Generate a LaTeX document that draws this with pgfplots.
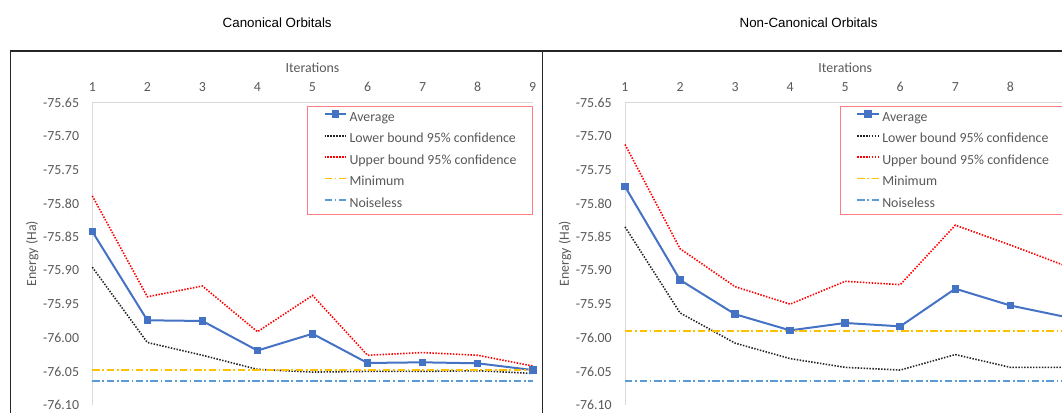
\documentclass[border=0pt]{standalone}
\usepackage{pgfplots}
\pgfplotsset{compat=1.18}
\usepackage{fontspec}
\setmainfont{Carlito}
\newfontfamily\titlefont{Liberation Sans}
\definecolor{avgblue}{HTML}{4472C4}
\definecolor{minyellow}{HTML}{FFC000}
\definecolor{noiseblue}{HTML}{5B9BD5}
\definecolor{ticktext}{HTML}{595959}
\definecolor{legborder}{RGB}{255,124,128}
\definecolor{axisgray}{HTML}{D9D9D9}

\pgfplotsset{
  panel/.style={
    scale only axis, width=330.3pt, height=226.9pt,
    xmin=1, xmax=9, ymin=-76.10, ymax=-75.65,
    axis x line*=top, axis y line*=left,
    axis line style={draw=axisgray, line width=0.75pt},
    xtick={1,2,3,4,5,6,7,8,9},
    ytick={-76.10,-76.05,-76.00,-75.95,-75.90,-75.85,-75.80,-75.75,-75.70,-75.65},
    yticklabels={-76.10,-76.05,-76.00,-75.95,-75.90,-75.85,-75.80,-75.75,-75.70,-75.65},
    major tick length=0pt,
    tick label style={font=\fontsize{10.4}{12}\selectfont, text=ticktext},
    xticklabel style={anchor=base, inner sep=0pt, yshift=8.5pt},
    yticklabel style={anchor=east, inner sep=0pt, xshift=-9.75pt},
    clip=false,
    legend cell align=left,
    legend style={at={(axis description cs:0.4882,0.9885)}, anchor=north west,
      draw=legborder, line width=0.75pt, text=ticktext,
      font=\fontsize{10.4}{12}\selectfont,
      inner xsep=11.8pt, inner ysep=0.4pt,
      nodes={inner sep=0pt, text height=10.65pt, text depth=5.45pt},
      /tikz/every odd column/.append style={column sep=1.7pt}},
    legend image code/.code={\draw[mark repeat=2, mark phase=2, #1] plot coordinates {(0pt,2.6pt) (8.15pt,2.6pt) (16.3pt,2.6pt)};},
  },
  avgst/.style={color=avgblue, draw=avgblue, line width=1.5pt, mark=square*, mark size=2.1pt, mark options={solid, fill=avgblue}},
  lowst/.style={color=black!85, draw=black!85, line width=1.2pt, dash pattern=on 1.1pt off 1.1pt},
  upst/.style={color=red, draw=red, line width=1.2pt, dash pattern=on 1.1pt off 1.1pt},
  minst/.style={color=minyellow, draw=minyellow, line width=1.1pt, dash pattern=on 5.6pt off 2pt on 1.3pt off 2pt},
  noist/.style={color=noiseblue, draw=noiseblue, line width=1.1pt, dash pattern=on 5.6pt off 2pt on 1.3pt off 2pt},
}

\begin{document}
\begin{tikzpicture}
\useasboundingbox (0,0) rectangle (796.5pt,309pt);
\begin{scope}
\clip (0,0) rectangle (796.5pt,309pt);
% Left panel
\begin{axis}[panel, at={(69.23pt,5.25pt)}, anchor=south west,
  xticklabels={1,2,3,4,5,6,7,8,9}]
\addplot[avgst] coordinates {(1,-75.842)(2,-75.974)(3,-75.975)(4,-76.019)(5,-75.994)(6,-76.0375)(7,-76.0365)(8,-76.038)(9,-76.048)};
\addlegendentry{Average}
\addplot[lowst] coordinates {(1,-75.895)(2,-76.007)(3,-76.026)(4,-76.047)(5,-76.051)(6,-76.050)(7,-76.050)(8,-76.049)(9,-76.053)};
\addlegendentry{Lower bound 95\% confidence}
\addplot[upst] coordinates {(1,-75.789)(2,-75.939)(3,-75.923)(4,-75.991)(5,-75.937)(6,-76.026)(7,-76.022)(8,-76.026)(9,-76.042)};
\addlegendentry{Upper bound 95\% confidence}
\addplot[minst] coordinates {(1,-76.048)(9,-76.048)};
\addlegendentry{Minimum}
\addplot[noist] coordinates {(1,-76.064)(9,-76.064)};
\addlegendentry{Noiseless}
\node[anchor=base, text=ticktext, font=\fontsize{10.4}{12}\selectfont, yshift=22.65pt] at (axis description cs:0.5,1) {Iterations};
\node[xshift=-45pt, rotate=90, text=ticktext, font=\fontsize{10.4}{12}\selectfont] at (axis description cs:0,0.5) {Energy (Ha)};
\end{axis}
% Right panel
\begin{axis}[panel, at={(468.75pt,5.25pt)}, anchor=south west,
  xticklabels={1,2,3,4,5,6,7,8,{}}]
\addplot[avgst] coordinates {(1,-75.775)(2,-75.914)(3,-75.965)(4,-75.989)(5,-75.978)(6,-75.983)(7,-75.927)(8,-75.952)(9,-75.969)};
\addlegendentry{Average}
\addplot[lowst] coordinates {(1,-75.835)(2,-75.963)(3,-76.008)(4,-76.031)(5,-76.044)(6,-76.048)(7,-76.025)(8,-76.044)(9,-76.044)};
\addlegendentry{Lower bound 95\% confidence}
\addplot[upst] coordinates {(1,-75.7125)(2,-75.8675)(3,-75.924)(4,-75.950)(5,-75.916)(6,-75.921)(7,-75.8325)(8,-75.862)(9,-75.893)};
\addlegendentry{Upper bound 95\% confidence}
\addplot[minst] coordinates {(1,-75.990)(9,-75.990)};
\addlegendentry{Minimum}
\addplot[noist] coordinates {(1,-76.064)(9,-76.064)};
\addlegendentry{Noiseless}
\node[anchor=base, text=ticktext, font=\fontsize{10.4}{12}\selectfont, yshift=22.65pt] at (axis description cs:0.5,1) {Iterations};
\node[xshift=-45pt, rotate=90, text=ticktext, font=\fontsize{10.4}{12}\selectfont] at (axis description cs:0,0.5) {Energy (Ha)};
\end{axis}
% Frames and titles
\draw[black!85, line width=1.1pt] (7.725pt,-10pt) rectangle (406.95pt,270.75pt);
\draw[black!85, line width=1.1pt] (406.95pt,-10pt) rectangle (806.2pt,270.75pt);
\node[font=\titlefont\fontsize{10}{12}\selectfont] at (207.9pt,291.75pt) {Canonical Orbitals};
\node[font=\titlefont\fontsize{10}{12}\selectfont] at (606.4pt,291.75pt) {Non-Canonical Orbitals};
\end{scope}
\end{tikzpicture}
\end{document}
